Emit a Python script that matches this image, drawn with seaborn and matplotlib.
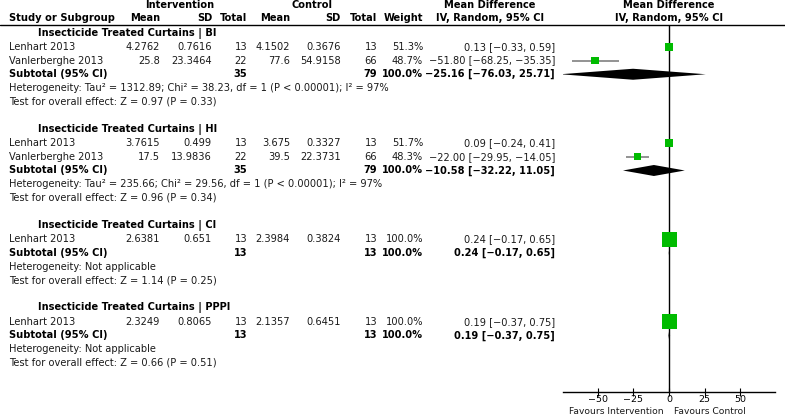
import numpy as np
import pandas as pd
import seaborn as sns
import matplotlib.pyplot as plt
from matplotlib.lines import Line2D
from matplotlib.transforms import blended_transform_factory

#--Data
subgroups = ['BI', 'HI', 'CI', 'PPPI']

study    = ['Lenhart 2013', 'Vanlerberghe 2013', 'Lenhart 2013', 'Vanlerberghe 2013', 'Lenhart 2013', 'Lenhart 2013']
group    = ['BI', 'BI', 'HI', 'HI', 'CI', 'PPPI']
int_mean = [4.2762, 25.8, 3.7615, 17.5, 2.6381, 2.3249]
int_sd   = [0.7616, 23.3464, 0.499, 13.9836, 0.651, 0.8065]
int_n    = [13, 22, 13, 22, 13, 13]
ctl_mean = [4.1502, 77.6, 3.675, 39.5, 2.3984, 2.1357]
ctl_sd   = [0.3676, 54.9158, 0.3327, 22.3731, 0.3824, 0.6451]
ctl_n    = [13, 66, 13, 66, 13, 13]
weight   = [51.3, 48.7, 51.7, 48.3, 100.0, 100.0]
md       = [0.13, -51.80, 0.09, -22.00, 0.24, 0.19]
md_lo    = [-0.33, -68.25, -0.24, -29.95, -0.17, -0.37]
md_hi    = [0.59, -35.35, 0.41, -14.05, 0.65, 0.75]

sub_md    = [-25.16, -10.58, 0.24, 0.19]
sub_lo    = [-76.03, -32.22, -0.17, -0.37]
sub_hi    = [25.71, 11.05, 0.65, 0.75]
sub_n_int = [35, 35, 13, 13]
sub_n_ctl = [79, 79, 13, 13]
tau2      = [1312.89, 235.66, None, None]
chi2      = [38.23, 29.56, None, None]
i2        = [97, 97, None, None]
z_val     = [0.97, 0.96, 1.14, 0.66]
p_val     = [0.33, 0.34, 0.25, 0.51]

xticks = [-50, -25, 0, 25, 50]


def fmt(v):
    return ('%.2f' % v).replace('-', '\u2212')


def ci_text(m, lo, hi):
    return fmt(m) + ' [' + fmt(lo) + ', ' + fmt(hi) + ']'


#--Build row positions
df = pd.DataFrame({'study': study, 'group': group, 'int_mean': int_mean, 'int_sd': int_sd,
                   'int_n': int_n, 'ctl_mean': ctl_mean, 'ctl_sd': ctl_sd, 'ctl_n': ctl_n,
                   'weight': weight, 'md': md, 'lo': md_lo, 'hi': md_hi})
df_sub = pd.DataFrame({'group': subgroups, 'md': sub_md, 'lo': sub_lo, 'hi': sub_hi,
                       'n_int': sub_n_int, 'n_ctl': sub_n_ctl})

rows, sub_rows, head_rows = [], [], []
r = 0
for g in subgroups:
    head_rows.append(r)
    r += 1
    for _ in range((df['group'] == g).sum()):
        rows.append(r)
        r += 1
    sub_rows.append(r)
    r += 4
df['row'] = rows
df_sub['row'] = sub_rows
df['w2'] = df['weight'] ** 2

#--Figure
sns.set_theme(style='white')
plt.rcParams['font.family'] = ['DejaVu Sans']
W, H = 785, 416
fig = plt.figure(figsize=(W / 100, H / 100), dpi=100)

ax = fig.add_axes([563 / W, (H - 392) / H, 212 / W, (392 - 25) / H])
ax.set_xlim(-74.2, 74.2)
ax.set_ylim(26.11, -0.582)

green = '#00bb00'
fs = 7.15
txt = '#1a1a1a'

#Zero line and CI whiskers
ax.axvline(0, color='black', lw=1, zorder=1)
ax.hlines(df['row'], df['lo'], df['hi'], color='#808080', lw=1.2, zorder=2)

#Study squares (side proportional to weight)
sns.scatterplot(data=df, x='md', y='row', size='w2', size_norm=(0, 10000), sizes=(0, 117),
                marker='s', color=green, linewidth=0, legend=False, ax=ax, zorder=3)

#Subtotal diamonds
for _, s in df_sub.iterrows():
    ax.fill([s['lo'], s['md'], s['hi'], s['md']],
            [s['row'], s['row'] - 0.4, s['row'], s['row'] + 0.4],
            color='black', lw=0, zorder=3)

sns.despine(ax=ax, left=True)
ax.set_yticks([])
ax.set_xticks(xticks)
ax.tick_params(axis='x', direction='inout', length=6, width=0.8, pad=-0.5,
               labelsize=6.8, colors='black', bottom=True)
ax.spines['bottom'].set_color('black')
ax.spines['bottom'].set_linewidth(1)
ax.set_xlabel('')
ax.set_ylabel('')
ax.text(-3.5, 27.5, 'Favours Intervention', ha='right', va='center', fontsize=6.6, color=txt)
ax.text(3.5, 27.5, 'Favours Control', ha='left', va='center', fontsize=6.6, color=txt)

#--Table text
tr = blended_transform_factory(fig.transFigure, ax.transData)


def put(xpx, row, s, ha='left', bold=False):
    ax.text(xpx / W, row, s, transform=tr, ha=ha, va='center', fontsize=fs,
            color='black' if bold else txt, fontweight='bold' if bold else 'normal')


#Headers
fig.add_artist(Line2D([0, 1], [1 - 25 / H, 1 - 25 / H], transform=fig.transFigure, color='black', lw=1))
hr1, hr2 = -2.04, -1.09
put(180, hr1, 'Intervention', ha='center', bold=True)
put(312, hr1, 'Control', ha='center', bold=True)
put(490, hr1, 'Mean Difference', ha='center', bold=True)
put(669, hr1, 'Mean Difference', ha='center', bold=True)
put(9, hr2, 'Study or Subgroup', bold=True)
put(160, hr2, 'Mean', ha='right', bold=True)
put(212, hr2, 'SD', ha='right', bold=True)
put(247, hr2, 'Total', ha='right', bold=True)
put(290, hr2, 'Mean', ha='right', bold=True)
put(341, hr2, 'SD', ha='right', bold=True)
put(377, hr2, 'Total', ha='right', bold=True)
put(423, hr2, 'Weight', ha='right', bold=True)
put(490, hr2, 'IV, Random, 95% CI', ha='center', bold=True)
put(669, hr2, 'IV, Random, 95% CI', ha='center', bold=True)

for k, g in enumerate(subgroups):
    put(38, head_rows[k], 'Insecticide Treated Curtains | ' + g, bold=True)

for _, s in df.iterrows():
    y = s['row']
    put(9, y, s['study'])
    put(160, y, str(s['int_mean']), ha='right')
    put(212, y, str(s['int_sd']), ha='right')
    put(247, y, str(s['int_n']), ha='right')
    put(290, y, str(s['ctl_mean']), ha='right')
    put(341, y, str(s['ctl_sd']), ha='right')
    put(377, y, str(s['ctl_n']), ha='right')
    put(423, y, '%.1f%%' % s['weight'], ha='right')
    put(555, y, ci_text(s['md'], s['lo'], s['hi']), ha='right')

for k, s in df_sub.iterrows():
    y = s['row']
    put(9, y, 'Subtotal (95% CI)', bold=True)
    put(247, y, str(s['n_int']), ha='right', bold=True)
    put(377, y, str(s['n_ctl']), ha='right', bold=True)
    put(423, y, '100.0%', ha='right', bold=True)
    put(555, y, ci_text(s['md'], s['lo'], s['hi']), ha='right', bold=True)
    if tau2[k] is None:
        het = 'Heterogeneity: Not applicable'
    else:
        het = ('Heterogeneity: Tau\u00b2 = %.2f; Chi\u00b2 = %.2f, df = 1 (P < 0.00001); I\u00b2 = %d%%'
               % (tau2[k], chi2[k], i2[k]))
    put(9, y + 1, het)
    put(9, y + 2, 'Test for overall effect: Z = %.2f (P = %.2f)' % (z_val[k], p_val[k]))

fig.savefig('out.png', dpi=100)
